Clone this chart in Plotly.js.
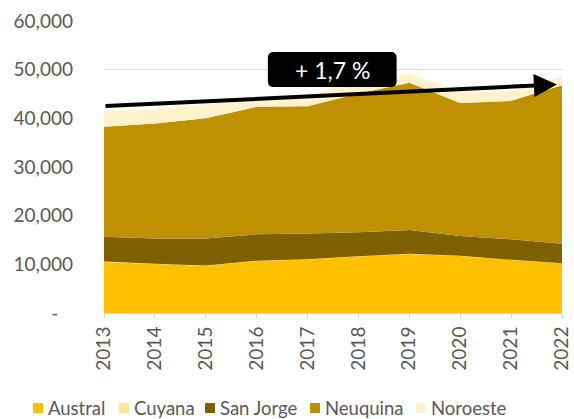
<!DOCTYPE html>
<html>
<head>
<meta charset="utf-8">
<script src="https://cdn.plot.ly/plotly-3.0.1.min.js"></script>
<style>html,body{margin:0;padding:0;background:#fff;}#chart{width:574px;height:419px;}</style>
</head>
<body>
<div id="chart"></div>
<script>
const years = [2013, 2014, 2015, 2016, 2017, 2018, 2019, 2020, 2021, 2022];
const austral  = [10500, 10060, 9700, 10700, 11000, 11600, 12100, 11700, 10900, 10200];
const cuyana   = [62, 60, 58, 57, 55, 52, 50, 46, 44, 42];
const sanJorge = [5110, 5210, 5570, 5400, 5300, 4920, 4890, 4060, 4190, 4000];
const neuquina = [22580, 23620, 24710, 26200, 26140, 28540, 30250, 27370, 28460, 32580];
const noroeste = [3290, 2880, 2880, 1990, 2260, 2400, 1930, 2260, 2000, 1700];
const seriesNames = ['Austral', 'Cuyana', 'San Jorge', 'Neuquina', 'Noroeste'];
const seriesColors = ['#FFC000', '#FFE699', '#7F6000', '#BF9000', '#FFF2CC'];
const seriesValues = [austral, cuyana, sanJorge, neuquina, noroeste];
const yTickVals = [0, 10000, 20000, 30000, 40000, 50000, 60000];
const yTickText = ['-\u00a0\u00a0\u00a0', '10,000', '20,000', '30,000', '40,000', '50,000', '60,000'];
const trendLabel = '+ 1,7 %';
const trendStart = [2013, 42500];
const trendEnd = [2021.9, 46960];

const font = 'Lato, "Liberation Sans", sans-serif';
const txtColor = '#595959';

// layout geometry (pixels) for the manual legend
const W = 574, H = 419, ML = 104, MR = 12, MT = 21, MB = 106;
const plotW = W - ML - MR, plotH = H - MT - MB;
const px2x = p => (p - ML) / plotW;
const px2y = p => (H - MB - p) / plotH;
const legendSquareLeft = [33, 119, 205, 310, 416];
const legendMidY = 408;

const traces = [];
seriesValues.forEach((vals, i) => {
  traces.push({
    type: 'scatter', mode: 'none', x: years, y: vals,
    stackgroup: 'one', fill: 'tonexty', fillcolor: seriesColors[i],
    name: seriesNames[i], showlegend: false, hoverinfo: 'skip'
  });
});

const bx0 = 2016.22, bx1 = 2018.75, by0 = 46440, by1 = 53630;
const rx = 0.12, ry = 1200;
const boxPath = `M ${bx0+rx},${by1} L ${bx1-rx},${by1} Q ${bx1},${by1} ${bx1},${by1-ry} L ${bx1},${by0+ry} Q ${bx1},${by0} ${bx1-rx},${by0} L ${bx0+rx},${by0} Q ${bx0},${by0} ${bx0},${by0+ry} L ${bx0},${by1-ry} Q ${bx0},${by1} ${bx0+rx},${by1} Z`;

const shapes = [{type: 'path', xref: 'x', yref: 'y', path: boxPath, fillcolor: '#000', line: {width: 0}, layer: 'above'}];
const annotations = [
  {xref: 'x', yref: 'y', x: trendEnd[0], y: trendEnd[1], axref: 'x', ayref: 'y', ax: trendStart[0], ay: trendStart[1],
   text: '', showarrow: true, arrowhead: 2, arrowsize: 1.15, arrowwidth: 4, arrowcolor: '#000', standoff: 0},
  {xref: 'x', yref: 'y', x: (bx0 + bx1) / 2, y: (by0 + by1) / 2, text: trendLabel, showarrow: false,
   font: {family: font, color: '#fff', size: 23}}
];
seriesNames.forEach((name, i) => {
  const l = legendSquareLeft[i];
  shapes.push({type: 'rect', xref: 'paper', yref: 'paper',
    x0: px2x(l), x1: px2x(l + 10), y0: px2y(legendMidY + 5), y1: px2y(legendMidY - 5),
    fillcolor: seriesColors[i], line: {width: 0}});
  annotations.push({xref: 'paper', yref: 'paper', x: px2x(l + 13), y: px2y(legendMidY),
    xanchor: 'left', yanchor: 'middle', text: name, showarrow: false,
    font: {family: font, color: txtColor, size: 18.5}});
});

const layout = {
  width: W, height: H,
  margin: {l: ML, r: MR, t: MT, b: MB},
  paper_bgcolor: '#fff', plot_bgcolor: '#fff',
  font: {family: font, color: txtColor, size: 19},
  showlegend: false,
  xaxis: {
    range: [2013, 2022], tickvals: years, ticktext: years.map(String),
    tickangle: -90, showgrid: false, zeroline: false,
    showline: true, linecolor: '#D9D9D9', linewidth: 1,
    ticks: 'outside', ticklen: 5, tickcolor: '#D9D9D9',
    tickfont: {family: font, color: txtColor, size: 19}, automargin: false
  },
  yaxis: {
    range: [0, 60000], tickvals: yTickVals, ticktext: yTickText,
    showgrid: true, gridcolor: '#D9D9D9', gridwidth: 1, zeroline: false,
    showline: false, ticks: '', ticklabelstandoff: 30,
    tickfont: {family: font, color: txtColor, size: 19}, automargin: false
  },
  shapes: shapes,
  annotations: annotations
};

Plotly.newPlot('chart', traces, layout, {staticPlot: true, displayModeBar: false});
</script>
</body>
</html>
